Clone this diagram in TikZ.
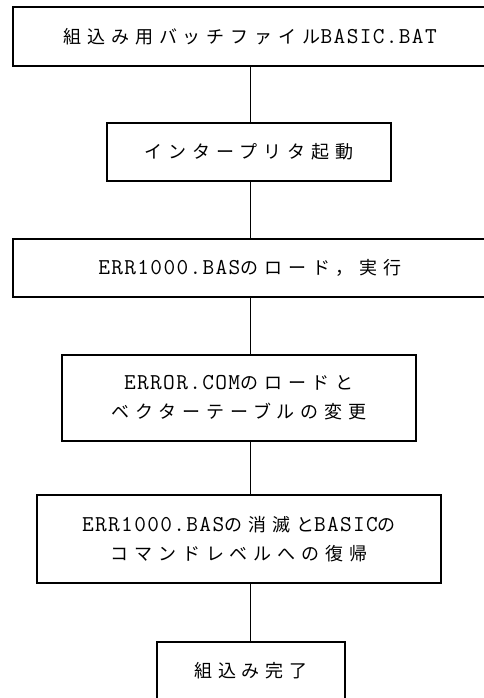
\documentclass[tikz,border=0pt]{standalone}
\usepackage{fontspec}
\newfontfamily\jp[LetterSpace=33]{Noto Sans CJK JP}
\newfontfamily\lt[Scale=1.26,LetterSpace=6]{Latin Modern Mono}
\newcommand{\la}[1]{{\lt #1}}
\begin{document}
\begin{tikzpicture}[x=1pt,y=-1pt,
  flowbox/.style={draw,line width=1.2pt,rectangle,inner sep=0pt,align=center,
    font={\jp\fontsize{18}{29}\selectfont}},
  link/.style={line width=1pt}]
\clip (0,0) rectangle (484,698);
\useasboundingbox (0,0) rectangle (484,698);
\node[flowbox,minimum width=474pt,minimum height=59pt] (b1) at (250,36.5) {組込み用バッチファイル\la{BASIC.BAT}};
\node[flowbox,minimum width=284pt,minimum height=58pt] (b2) at (249,152) {インタープリタ起動};
\node[flowbox,minimum width=474pt,minimum height=58pt] (b3) at (250,268) {\la{ERR1000.BAS}のロード，実行};
\node[flowbox,minimum width=354pt,minimum height=86pt] (b4) at (239,398) {\la{ERROR.COM}のロードと\\ベクターテーブルの変更};
\node[flowbox,minimum width=404pt,minimum height=88pt] (b5) at (239,539) {\la{ERR1000.BAS}の消滅と\la{BASIC}の\\コマンドレベルへの復帰};
\node[flowbox,minimum width=188pt,minimum height=58pt] (b6) at (251,671) {組込み完了};
\draw[link] (b1.south) -- (b1.south |- b2.north);
\draw[link] (b1.south |- b2.south) -- (b1.south |- b3.north);
\draw[link] (b3.south) -- (b3.south |- b4.north);
\draw[link] (b3.south |- b4.south) -- (b3.south |- b5.north);
\draw[link] (b3.south |- b5.south) -- (b3.south |- b6.north);
\end{tikzpicture}
\end{document}
